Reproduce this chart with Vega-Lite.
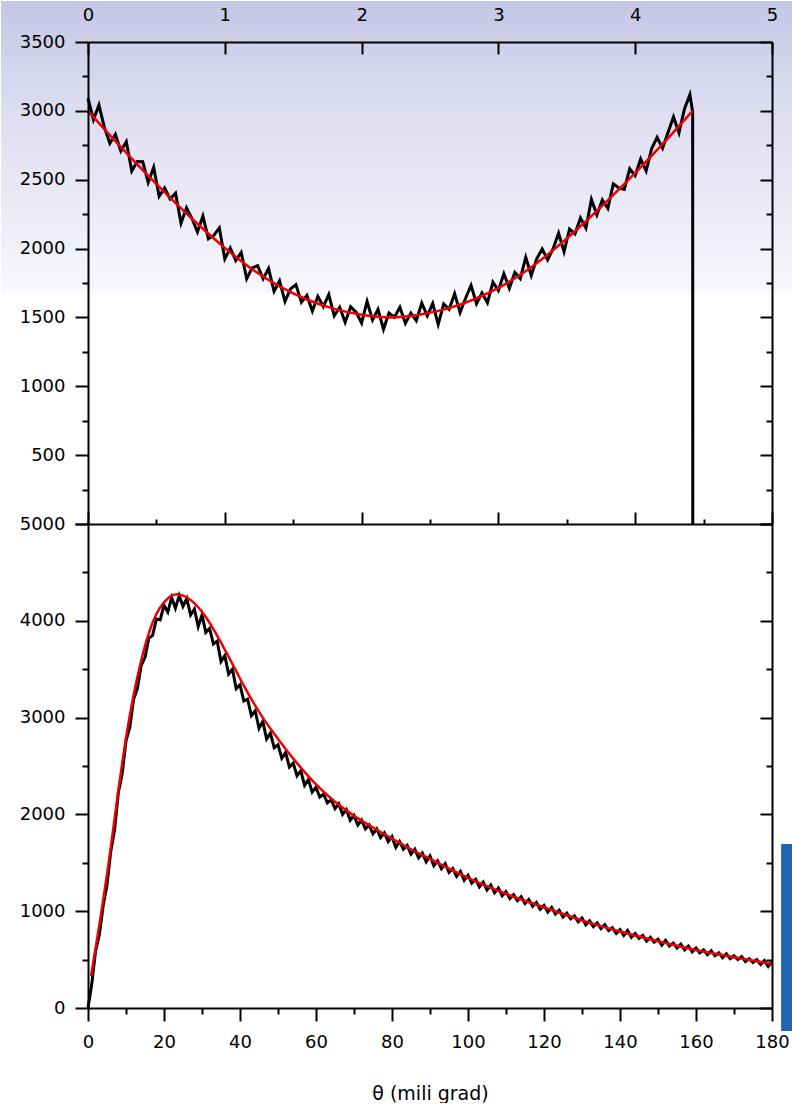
{
  "$schema": "https://vega.github.io/schema/vega-lite/v6.json",
  "padding": 0,
  "autosize": {"type": "pad"},
  "background": "white",
  "spacing": 0,
  "bounds": "flush",
  "config": {
    "view": {"stroke": null},
    "axis": {
      "grid": false, "domainColor": "black", "domainWidth": 2, "tickColor": "black", "tickWidth": 2,
      "labelColor": "black", "labelFont": "DejaVu Sans", "labelFontSize": 18,
      "titleFont": "DejaVu Sans", "titleFontSize": 19, "titleFontWeight": "normal", "titleColor": "black",
      "labelFlush": false, "labelOverlap": false
    }
  },
  "datasets": {
    "bg": [{"x": -0.636, "x2": 5.15, "y": 1680, "y2": 3798}],
    "topBlack": [
      {"x":0,"y":3090},{"x":0.04,"y":2936},{"x":0.08,"y":3042},{"x":0.12,"y":2878},{"x":0.16,"y":2764},{"x":0.2,"y":2830},{"x":0.24,"y":2708},{"x":0.28,"y":2776},{"x":0.32,"y":2564},{"x":0.36,"y":2632},
      {"x":0.4,"y":2630},{"x":0.44,"y":2480},{"x":0.48,"y":2590},{"x":0.52,"y":2380},{"x":0.56,"y":2440},{"x":0.6,"y":2360},{"x":0.64,"y":2402},{"x":0.68,"y":2184},{"x":0.72,"y":2296},{"x":0.76,"y":2218},
      {"x":0.8,"y":2120},{"x":0.84,"y":2235},{"x":0.88,"y":2070},{"x":0.92,"y":2095},{"x":0.96,"y":2150},{"x":1,"y":1925},{"x":1.04,"y":2004},{"x":1.08,"y":1913},{"x":1.12,"y":1972},{"x":1.16,"y":1781},
      {"x":1.2,"y":1860},{"x":1.24,"y":1875},{"x":1.28,"y":1780},{"x":1.32,"y":1855},{"x":1.36,"y":1690},{"x":1.4,"y":1765},{"x":1.44,"y":1616},{"x":1.48,"y":1707},{"x":1.52,"y":1738},{"x":1.56,"y":1609},
      {"x":1.6,"y":1660},{"x":1.64,"y":1546},{"x":1.68,"y":1653},{"x":1.72,"y":1579},{"x":1.76,"y":1666},{"x":1.8,"y":1512},{"x":1.84,"y":1574},{"x":1.88,"y":1465},{"x":1.92,"y":1577},{"x":1.96,"y":1538},
      {"x":2,"y":1460},{"x":2.04,"y":1616},{"x":2.08,"y":1482},{"x":2.12,"y":1558},{"x":2.16,"y":1414},{"x":2.2,"y":1532},{"x":2.24,"y":1502},{"x":2.28,"y":1574},{"x":2.32,"y":1457},{"x":2.36,"y":1531},
      {"x":2.4,"y":1476},{"x":2.44,"y":1604},{"x":2.48,"y":1512},{"x":2.52,"y":1601},{"x":2.56,"y":1450},{"x":2.6,"y":1598},{"x":2.64,"y":1559},{"x":2.68,"y":1672},{"x":2.72,"y":1536},{"x":2.76,"y":1639},
      {"x":2.8,"y":1733},{"x":2.84,"y":1599},{"x":2.88,"y":1678},{"x":2.92,"y":1607},{"x":2.96,"y":1756},{"x":3,"y":1695},{"x":3.04,"y":1817},{"x":3.08,"y":1712},{"x":3.12,"y":1827},{"x":3.16,"y":1782},
      {"x":3.2,"y":1937},{"x":3.24,"y":1805},{"x":3.28,"y":1926},{"x":3.32,"y":1997},{"x":3.36,"y":1918},{"x":3.4,"y":1999},{"x":3.44,"y":2112},{"x":3.48,"y":1977},{"x":3.52,"y":2142},{"x":3.56,"y":2107},
      {"x":3.6,"y":2222},{"x":3.64,"y":2149},{"x":3.68,"y":2357},{"x":3.72,"y":2245},{"x":3.76,"y":2353},{"x":3.8,"y":2291},{"x":3.84,"y":2470},{"x":3.88,"y":2440},{"x":3.92,"y":2430},{"x":3.96,"y":2580},
      {"x":4,"y":2530},{"x":4.04,"y":2651},{"x":4.08,"y":2563},{"x":4.12,"y":2725},{"x":4.16,"y":2807},{"x":4.2,"y":2729},{"x":4.24,"y":2842},{"x":4.28,"y":2956},{"x":4.32,"y":2840},{"x":4.36,"y":3014},
      {"x":4.4,"y":3118},{"x":4.42,"y":2990},{"x":4.421,"y":0}
    ],
    "topRed": [
      {"x":0,"y":3000},{"x":0.2,"y":2780},{"x":0.4,"y":2570},{"x":0.6,"y":2370},{"x":0.8,"y":2180},{"x":1,"y":2005},{"x":1.2,"y":1850},{"x":1.4,"y":1725},{"x":1.6,"y":1630},{"x":1.8,"y":1562},{"x":2,"y":1520},{"x":2.21,"y":1500},
      {"x":2.42,"y":1520},{"x":2.62,"y":1562},{"x":2.82,"y":1630},{"x":3.02,"y":1725},{"x":3.22,"y":1850},{"x":3.42,"y":2005},{"x":3.62,"y":2180},{"x":3.82,"y":2370},{"x":4.02,"y":2570},{"x":4.22,"y":2780},{"x":4.42,"y":3000}
    ],
    "botBlack": [
      {"x":0,"y":0},{"x":1,"y":250},{"x":2,"y":590},{"x":3,"y":760},{"x":4,"y":1060},{"x":5,"y":1270},{"x":6,"y":1620},{"x":7,"y":1840},{"x":8,"y":2230},{"x":9,"y":2420},
      {"x":10,"y":2760},{"x":11,"y":2900},{"x":12,"y":3190},{"x":13,"y":3300},{"x":14,"y":3540},{"x":15,"y":3620},{"x":16,"y":3820},{"x":17,"y":3850},{"x":18,"y":4020},{"x":19,"y":4010},
      {"x":20,"y":4160},{"x":21,"y":4090},{"x":22,"y":4240},{"x":23,"y":4130},{"x":24,"y":4260},{"x":25,"y":4150},{"x":26,"y":4230},{"x":27,"y":4060},{"x":28,"y":4120},{"x":29,"y":3940},
      {"x":30,"y":4060},{"x":31,"y":3880},{"x":32,"y":3920},{"x":33,"y":3760},{"x":34,"y":3790},{"x":35,"y":3580},{"x":36,"y":3640},{"x":37,"y":3450},{"x":38,"y":3500},{"x":39,"y":3300},
      {"x":40,"y":3340},{"x":41,"y":3170},{"x":42,"y":3190},{"x":43,"y":3020},{"x":44,"y":3070},{"x":45,"y":2890},{"x":46,"y":2960},{"x":47,"y":2780},{"x":48,"y":2840},{"x":49,"y":2690},
      {"x":50,"y":2720},{"x":51,"y":2580},{"x":52,"y":2640},{"x":53,"y":2490},{"x":54,"y":2530},{"x":55,"y":2400},{"x":56,"y":2450},{"x":57,"y":2300},{"x":58,"y":2360},{"x":59,"y":2230},
      {"x":60,"y":2280},{"x":61,"y":2180},{"x":62,"y":2210},{"x":63,"y":2120},{"x":64,"y":2150},{"x":65,"y":2060},{"x":66,"y":2110},{"x":67,"y":2000},{"x":68,"y":2050},{"x":69,"y":1940},
      {"x":70,"y":1990},{"x":71,"y":1890},{"x":72,"y":1940},{"x":73,"y":1850},{"x":74,"y":1890},{"x":75,"y":1800},{"x":76,"y":1850},{"x":77,"y":1760},{"x":78,"y":1810},{"x":79,"y":1720},
      {"x":80,"y":1770},{"x":81,"y":1660},{"x":82,"y":1720},{"x":83,"y":1640},{"x":84,"y":1680},{"x":85,"y":1590},{"x":86,"y":1640},{"x":87,"y":1550},{"x":88,"y":1600},{"x":89,"y":1510},
      {"x":90,"y":1570},{"x":91,"y":1470},{"x":92,"y":1520},{"x":93,"y":1440},{"x":94,"y":1490},{"x":95,"y":1400},{"x":96,"y":1440},{"x":97,"y":1360},{"x":98,"y":1410},{"x":99,"y":1320},
      {"x":100,"y":1370},{"x":101,"y":1290},{"x":102,"y":1330},{"x":103,"y":1250},{"x":104,"y":1300},{"x":105,"y":1220},{"x":106,"y":1270},{"x":107,"y":1190},{"x":108,"y":1240},{"x":109,"y":1160},
      {"x":110,"y":1200},{"x":111,"y":1130},{"x":112,"y":1170},{"x":113,"y":1110},{"x":114,"y":1150},{"x":115,"y":1080},{"x":116,"y":1120},{"x":117,"y":1050},{"x":118,"y":1090},{"x":119,"y":1020},
      {"x":120,"y":1060},{"x":121,"y":990},{"x":122,"y":1040},{"x":123,"y":970},{"x":124,"y":1010},{"x":125,"y":940},{"x":126,"y":980},{"x":127,"y":920},{"x":128,"y":950},{"x":129,"y":890},
      {"x":130,"y":930},{"x":131,"y":860},{"x":132,"y":900},{"x":133,"y":840},{"x":134,"y":880},{"x":135,"y":820},{"x":136,"y":860},{"x":137,"y":800},{"x":138,"y":830},{"x":139,"y":770},
      {"x":140,"y":810},{"x":141,"y":750},{"x":142,"y":800},{"x":143,"y":730},{"x":144,"y":770},{"x":145,"y":720},{"x":146,"y":750},{"x":147,"y":690},{"x":148,"y":730},{"x":149,"y":680},
      {"x":150,"y":710},{"x":151,"y":650},{"x":152,"y":700},{"x":153,"y":640},{"x":154,"y":670},{"x":155,"y":620},{"x":156,"y":660},{"x":157,"y":600},{"x":158,"y":640},{"x":159,"y":580},
      {"x":160,"y":620},{"x":161,"y":570},{"x":162,"y":600},{"x":163,"y":550},{"x":164,"y":590},{"x":165,"y":540},{"x":166,"y":570},{"x":167,"y":520},{"x":168,"y":560},{"x":169,"y":510},
      {"x":170,"y":540},{"x":171,"y":500},{"x":172,"y":530},{"x":173,"y":480},{"x":174,"y":510},{"x":175,"y":470},{"x":176,"y":500},{"x":177,"y":450},{"x":178,"y":490},{"x":179,"y":430},{"x":180,"y":480}
    ],
    "botRed": [
      {"x":0.8,"y":330},{"x":2,"y":620},{"x":3.4,"y":960},{"x":5,"y":1380},{"x":6,"y":1660},{"x":8,"y":2250},{"x":10,"y":2790},{"x":12,"y":3230},{"x":14,"y":3590},{"x":16,"y":3870},
      {"x":18,"y":4070},{"x":20,"y":4190},{"x":22,"y":4260},{"x":23.5,"y":4275},{"x":25,"y":4260},{"x":27,"y":4215},{"x":29,"y":4140},{"x":31,"y":4040},{"x":33,"y":3915},{"x":35,"y":3775},
      {"x":37,"y":3630},{"x":39,"y":3480},{"x":41,"y":3330},{"x":43,"y":3190},{"x":46,"y":3000},{"x":50,"y":2780},{"x":55,"y":2530},{"x":60,"y":2310},{"x":65,"y":2130},{"x":70,"y":1985},
      {"x":75,"y":1865},{"x":80,"y":1750},{"x":85,"y":1640},{"x":90,"y":1540},{"x":95,"y":1440},{"x":100,"y":1345},{"x":110,"y":1180},{"x":120,"y":1040},{"x":130,"y":905},{"x":140,"y":790},
      {"x":150,"y":690},{"x":160,"y":600},{"x":170,"y":525},{"x":180,"y":455}
    ],
    "blueBar": [{"x": 182.4, "x2": 185.5, "y": -238, "y2": 1694}]
  },
  "vconcat": [
    {
      "width": 684,
      "height": 482,
      "resolve": {"axis": {"x": "independent", "y": "independent"}},
      "layer": [
        {
          "data": {"name": "bg"},
          "mark": {"type": "rect", "clip": false, "fill": {"gradient": "linear", "x1": 0, "y1": 0, "x2": 0, "y2": 1, "stops": [{"offset": 0, "color": "#c6c6e6"}, {"offset": 0.35, "color": "#dcdcf0"}, {"offset": 1, "color": "#f7f7fc"}]}},
          "encoding": {
            "x": {"field": "x", "type": "quantitative", "scale": {"domain": [0, 5], "nice": false, "zero": false},
              "axis": {"orient": "top", "title": null, "zindex": 3, "format": "d", "values": [0,0.5,1,1.5,2,2.5,3,3.5,4,4.5,5],
                "labelExpr": "datum.value % 1 === 0 ? datum.label : ''",
                "tickSize": {"condition": {"test": "datum.value % 1 === 0", "value": -12}, "value": -5},
                "labelPadding": 30}},
            "x2": {"field": "x2"},
            "y": {"field": "y", "type": "quantitative", "scale": {"domain": [0, 3500], "nice": false, "zero": false},
              "axis": {"orient": "left", "title": null, "zindex": 3, "format": "d", "values": [0,250,500,750,1000,1250,1500,1750,2000,2250,2500,2750,3000,3250,3500],
                "labelExpr": "datum.value % 500 === 0 && datum.value > 0 ? datum.label : ''",
                "tickSize": {"condition": {"test": "datum.value % 500 === 0", "value": 13}, "value": 6},
                "labelPadding": 10}},
            "y2": {"field": "y2"}
          }
        },
        {
          "data": {"name": "topBlack"},
          "mark": {"type": "line", "interpolate": "linear", "color": "black", "strokeWidth": 3},
          "encoding": {
            "x": {"field": "x", "type": "quantitative", "scale": {"domain": [0, 5], "nice": false, "zero": false},
              "axis": {"orient": "bottom", "title": null, "zindex": 3, "labels": false, "values": [0,0.5,1,1.5,2,2.5,3,3.5,4,4.5,5],
                "tickSize": {"condition": {"test": "datum.value % 1 === 0", "value": -12}, "value": -5}}},
            "y": {"field": "y", "type": "quantitative", "scale": {"domain": [0, 3500], "nice": false, "zero": false},
              "axis": {"orient": "right", "title": null, "zindex": 3, "labels": false, "values": [0,250,500,750,1000,1250,1500,1750,2000,2250,2500,2750,3000,3250,3500],
                "tickSize": {"condition": {"test": "datum.value % 500 === 0", "value": -12}, "value": -6}}}
          }
        },
        {
          "data": {"name": "topRed"},
          "mark": {"type": "line", "interpolate": "monotone", "color": "#ee0000", "strokeWidth": 2.5},
          "encoding": {
            "x": {"field": "x", "type": "quantitative", "scale": {"domain": [0, 5], "nice": false, "zero": false}, "axis": null},
            "y": {"field": "y", "type": "quantitative", "scale": {"domain": [0, 3500], "nice": false, "zero": false}, "axis": null}
          }
        }
      ]
    },
    {
      "width": 684,
      "height": 484,
      "resolve": {"axis": {"x": "independent", "y": "independent"}},
      "layer": [
        {
          "data": {"name": "botBlack"},
          "mark": {"type": "line", "interpolate": "linear", "color": "black", "strokeWidth": 3},
          "encoding": {
            "x": {"field": "x", "type": "quantitative", "scale": {"domain": [0, 180], "nice": false, "zero": false},
              "axis": {"orient": "bottom", "title": "θ (mili grad)", "zindex": 3, "format": "d", "values": [0,10,20,30,40,50,60,70,80,90,100,110,120,130,140,150,160,170,180],
                "labelExpr": "datum.value % 20 === 0 ? datum.label : ''",
                "tickSize": {"condition": {"test": "datum.value % 20 === 0", "value": 13}, "value": 6},
                "labelPadding": 12, "titlePadding": 33}},
            "y": {"field": "y", "type": "quantitative", "scale": {"domain": [0, 5000], "nice": false, "zero": false},
              "axis": {"orient": "left", "title": null, "zindex": 3, "format": "d", "values": [0,500,1000,1500,2000,2500,3000,3500,4000,4500,5000],
                "labelExpr": "datum.value % 1000 === 0 ? datum.label : ''",
                "tickSize": {"condition": {"test": "datum.value % 1000 === 0", "value": 13}, "value": 6},
                "labelPadding": 10}}
          }
        },
        {
          "data": {"name": "botRed"},
          "mark": {"type": "line", "interpolate": "monotone", "color": "#ee0000", "strokeWidth": 2.5},
          "encoding": {
            "x": {"field": "x", "type": "quantitative", "scale": {"domain": [0, 180], "nice": false, "zero": false}, "axis": null},
            "y": {"field": "y", "type": "quantitative", "scale": {"domain": [0, 5000], "nice": false, "zero": false},
              "axis": {"orient": "right", "title": null, "zindex": 3, "labels": false, "values": [0,500,1000,1500,2000,2500,3000,3500,4000,4500,5000],
                "tickSize": {"condition": {"test": "datum.value % 1000 === 0", "value": -12}, "value": -6}}}
          }
        },
        {
          "data": {"name": "blueBar"},
          "mark": {"type": "rect", "clip": false, "color": "#1f66b2"},
          "encoding": {
            "x": {"field": "x", "type": "quantitative", "scale": {"domain": [0, 180], "nice": false, "zero": false}, "axis": null},
            "x2": {"field": "x2"},
            "y": {"field": "y", "type": "quantitative", "scale": {"domain": [0, 5000], "nice": false, "zero": false}, "axis": null},
            "y2": {"field": "y2"}
          }
        }
      ]
    }
  ]
}
